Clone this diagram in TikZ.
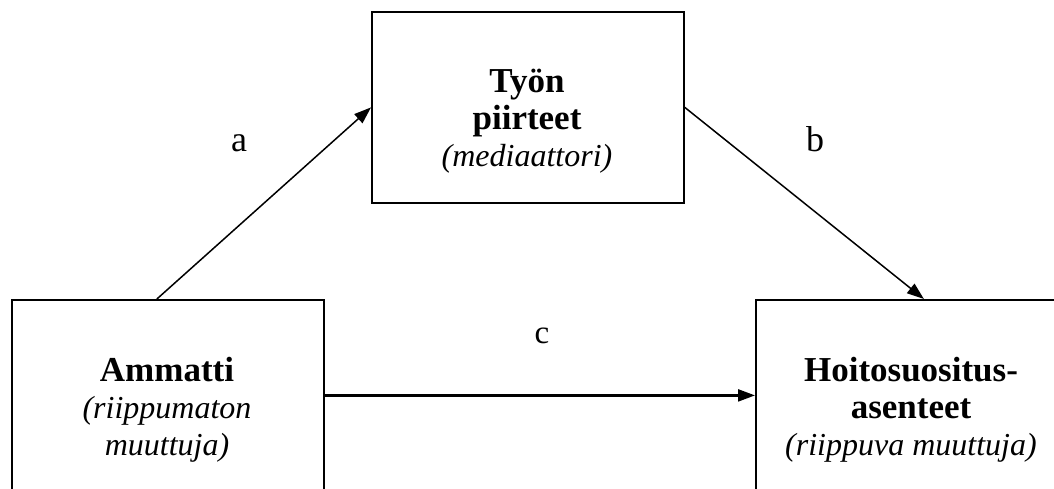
\documentclass[tikz,border=0pt]{standalone}
\usepackage{fontspec}
\setmainfont{Liberation Serif}
\usetikzlibrary{arrows.meta}
\newcommand{\bigb}[1]{{\fontsize{35}{37}\selectfont\bfseries #1}}
\begin{document}
\begin{tikzpicture}[x=1pt,y=-1pt,
  box/.style={draw,line width=1.8pt,minimum width=312pt,minimum height=191pt,inner sep=0pt,anchor=north west},
  txt/.style={align=center,font=\fontsize{32}{37}\selectfont,inner sep=0pt,anchor=base},
  lbl/.style={font=\fontsize{36}{40}\selectfont,inner sep=0pt,anchor=base},
  arr/.style={line width=1.5pt,-{Triangle[length=17pt,width=12pt]}}]
\useasboundingbox (0,0) rectangle (1054,489);
\node[box] (T) at (371,11) {};
\node[box] (L) at (11,299) {};
\node[box] (R) at (755,299) {};
\node[txt] (Tt) at (527,167) {\bigb{Työn}\\\bigb{piirteet}\\\textit{(mediaattori)}};
\node[txt] (Lt) at (167,455) {\bigb{Ammatti}\\\textit{(riippumaton}\\\textit{muuttuja)}};
\node[txt] (Rt) at (911,455) {\bigb{Hoitosuositus-}\\\bigb{asenteet}\\\textit{(riippuva muuttuja)}};
\node[lbl] (la) at (239,152) {a};
\node[lbl] (lb) at (815,152) {b};
\node[lbl,font=\fontsize{33}{37}\selectfont] (lc) at (542,343) {c};
\draw[arr] ([xshift=-11pt]L.north) -- (T.west);
\draw[arr] (T.east) -- ([xshift=12pt]R.north);
\draw[arr,line width=2.3pt] (L.east) -- (R.west);
\end{tikzpicture}
\end{document}
